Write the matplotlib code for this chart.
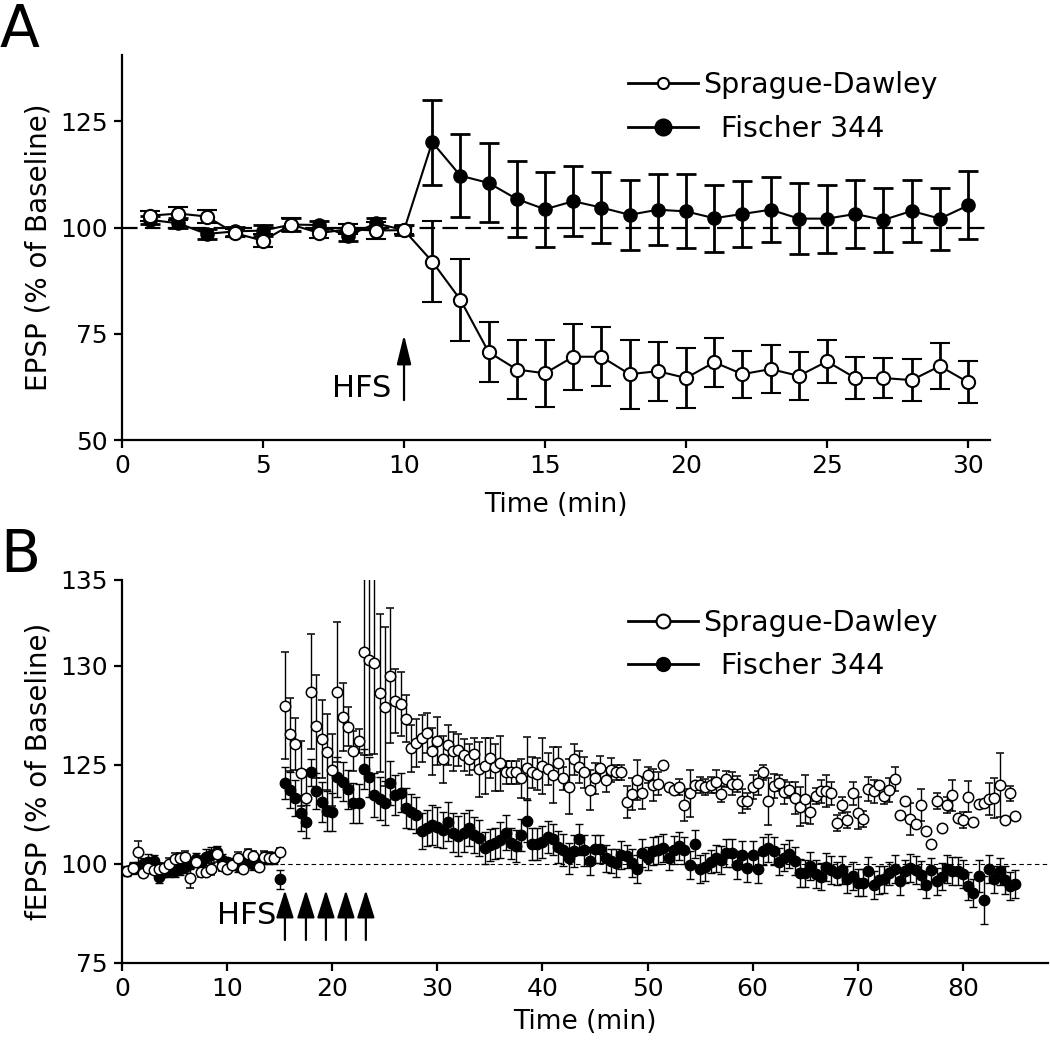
import numpy as np
import matplotlib.pyplot as plt
from matplotlib.lines import Line2D

# ---------------- Panel A data (1 point per minute) ----------------
time_a = [1, 2, 3, 4, 5, 6, 7, 8, 9, 10,
          11, 12, 13, 14, 15, 16, 17, 18, 19, 20,
          21, 22, 23, 24, 25, 26, 27, 28, 29, 30]
sd_a = [102.8, 103.3, 102.6, 98.7, 96.9, 100.7, 98.7, 99.6, 99.3, 99.4,
        92.0, 83.0, 70.7, 66.6, 65.7, 69.6, 69.6, 65.5, 66.2, 64.6,
        68.3, 65.5, 66.7, 65.1, 68.5, 64.6, 64.6, 64.1, 67.4, 63.6]
sd_a_err = [1.2, 1.5, 1.5, 1.0, 1.5, 1.5, 1.2, 1.2, 2.0, 1.0,
            9.5, 9.6, 7.0, 7.0, 7.9, 7.8, 7.0, 8.1, 6.9, 7.0,
            5.8, 5.5, 5.6, 5.6, 5.0, 5.0, 4.6, 5.0, 5.5, 4.9]
f344_a = [101.8, 101.0, 98.5, 99.1, 99.3, 100.7, 100.6, 98.0, 101.0, 99.4,
          120.1, 112.2, 110.5, 106.7, 104.3, 106.2, 104.7, 103.0, 104.2, 103.8,
          102.2, 103.2, 104.2, 102.1, 102.1, 103.2, 101.8, 103.9, 102.1, 105.2]
f344_a_err = [1.0, 1.2, 1.2, 1.0, 1.2, 1.5, 1.0, 1.2, 1.2, 1.2,
              10.0, 9.7, 9.3, 9.0, 8.8, 8.2, 8.3, 8.2, 8.4, 8.7,
              7.9, 7.8, 7.6, 8.3, 8.0, 8.0, 7.6, 7.3, 7.3, 8.0]

# ---------------- Panel B data (every 0.5 min, 0.5 .. 85) ----------------
time_b = np.arange(1, 171) * 0.5

sd_b = [
    # baseline 0.5 - 15
    98.2, 99.1, 102.9, 97.8, 98.9, 98.5, 98.7, 99.1, 100.0, 101.3,
    101.6, 101.8, 96.4, 100.4, 97.9, 97.9, 98.7, 102.4, 99.6, 98.7,
    99.8, 101.6, 98.7, 102.4, 102.1, 99.2, 101.8, 101.6, 101.5, 103.1,
    # after HFS 15.5 - 85
    140.0, 132.7, 130.2, 122.9, 116.7, 143.5, 134.8, 131.6, 128.2, 123.7,
    143.5, 137.1, 134.7, 128.5, 131.1, 153.4, 151.4, 150.8, 143.2, 139.7,
    147.5, 141.1, 140.4, 136.7, 129.2, 130.5, 131.7, 133.0, 128.4, 131.1,
    126.4, 130.1, 128.4, 128.8, 127.5, 126.4, 127.8, 123.9, 124.7, 126.7,
    124.4, 125.4, 123.1, 123.1, 123.1, 121.6, 124.2, 123.1, 122.7, 124.7,
    123.9, 122.5, 125.4, 121.6, 119.5, 126.4, 124.4, 123.1, 118.7, 121.6,
    124.2, 121.2, 123.7, 123.1, 123.1, 115.7, 117.7, 121.2, 118.0, 122.5,
    119.9, 120.3, 125.0, 119.4, 118.7, 119.5, 114.9, 117.8, 119.9, 119.9,
    119.5, 119.9, 120.8, 117.7, 121.4, 120.3, 120.2, 115.8, 115.9, 119.4,
    120.5, 123.1, 115.8, 119.7, 120.5, 118.2, 118.7, 116.6, 114.5, 116.4,
    113.0, 117.2, 118.3, 118.5, 117.8, 110.4, 114.9, 111.1, 117.8, 112.8,
    111.4, 118.9, 118.3, 119.9, 117.2, 118.7, 121.4, 112.3, 115.9, 111.3,
    110.0, 114.9, 108.4, 105.1, 115.9, 109.0, 114.9, 117.3, 111.5, 111.0,
    117.0, 110.6, 115.2, 115.3, 116.4, 116.6, 119.9, 111.1, 117.8, 112.2,
]
sd_b_err = [
    1.0, 1.0, 3.0, 1.0, 1.2, 1.0, 1.5, 1.2, 1.5, 1.5,
    1.2, 1.5, 2.5, 1.0, 1.2, 1.0, 1.5, 2.0, 1.5, 1.0,
    1.2, 1.5, 1.0, 1.5, 1.2, 1.0, 1.5, 1.5, 1.2, 1.0,
    13.6, 9.3, 6.6, 8.2, 7.0, 14.5, 13.0, 9.8, 9.6, 9.0,
    17.7, 8.5, 4.8, 5.0, 3.0, 26.0, 24.0, 23.0, 20.0, 20.0,
    17.0, 8.0, 8.0, 6.0, 6.0, 6.0, 6.0, 5.0, 6.0, 6.0,
    6.0, 5.0, 5.0, 4.0, 4.0, 4.0, 4.0, 7.0, 7.0, 5.0,
    6.0, 7.0, 3.0, 3.0, 3.0, 5.0, 7.8, 4.0, 4.0, 7.0,
    4.0, 7.0, 4.0, 3.0, 7.0, 4.0, 4.0, 4.0, 5.0, 4.0,
    3.0, 3.0, 3.0, 2.0, 2.0, 4.0, 4.0, 5.0, 4.0, 2.0,
    4.0, 3.0, 0.0, 0.0, 0.0, 2.0, 4.0, 6.0, 0.0, 2.0,
    2.0, 2.0, 3.0, 2.0, 2.0, 3.0, 2.0, 3.0, 2.0, 3.0,
    3.0, 2.0, 6.0, 3.0, 2.0, 3.0, 2.0, 4.0, 5.0, 6.0,
    3.0, 2.0, 3.0, 4.0, 3.0, 2.0, 2.0, 2.0, 3.0, 4.0,
    2.0, 3.0, 3.0, 0.0, 2.0, 3.0, 3.0, 0.0, 0.0, 4.0,
    0.0, 4.0, 0.0, 0.0, 2.0, 0.0, 2.0, 4.0, 0.0, 2.0,
    4.0, 0.0, 0.0, 0.0, 4.0, 5.0, 8.0, 0.0, 2.0, 0.0,
]
f344_b = [
    98.2, 98.9, 99.1, 99.9, 100.6, 100.8, 96.8, 97.9, 98.2, 98.2,
    98.7, 99.2, 99.9, 101.3, 100.4, 101.8, 102.3, 103.1, 101.0, 100.4,
    99.9, 99.5, 101.0, 100.6, 100.1, 100.8, 101.4, 101.6, 101.6, 96.1,
    120.5, 118.7, 116.7, 112.9, 110.7, 123.1, 118.4, 115.7, 113.4, 113.0,
    121.9, 120.8, 118.8, 115.4, 115.3, 123.9, 121.9, 117.4, 116.5, 115.4,
    120.5, 117.4, 118.0, 114.1, 113.2, 112.4, 108.4, 109.0, 109.8, 109.3,
    108.6, 110.7, 107.9, 107.1, 107.9, 109.0, 107.3, 106.5, 104.0, 104.8,
    105.2, 106.0, 107.9, 105.2, 104.5, 107.3, 110.9, 105.0, 105.0, 105.6,
    106.8, 106.2, 104.3, 103.5, 101.4, 103.2, 106.2, 103.4, 100.8, 103.7,
    103.7, 101.4, 100.8, 100.3, 102.3, 101.9, 100.3, 98.7, 102.7, 101.4,
    103.2, 103.5, 104.0, 101.4, 103.5, 104.5, 103.4, 99.7, 105.0, 98.7,
    99.3, 100.6, 101.4, 101.0, 102.7, 102.7, 99.7, 102.3, 98.9, 102.3,
    98.7, 103.2, 104.0, 103.2, 100.6, 101.6, 102.5, 100.8, 97.8, 97.6,
    99.5, 97.5, 96.8, 99.3, 98.5, 97.6, 98.5, 96.1, 97.0, 95.3,
    95.3, 98.3, 94.7, 96.0, 96.1, 97.6, 98.7, 95.6, 98.1, 98.9,
    98.5, 97.2, 94.8, 98.5, 95.6, 96.8, 98.7, 98.3, 98.3, 97.5,
    94.4, 92.6, 97.0, 90.9, 98.7, 96.1, 98.1, 96.0, 94.4, 94.9,
]
f344_b_err = [
    1.2, 1.5, 1.5, 1.5, 2.0, 1.5, 1.5, 1.2, 1.5, 1.5,
    1.5, 1.5, 1.2, 1.5, 1.5, 2.0, 2.0, 1.5, 1.5, 1.2,
    1.5, 1.5, 1.5, 1.5, 1.5, 1.5, 1.5, 1.5, 1.5, 2.5,
    4.1, 4.5, 4.5, 4.5, 4.2, 3.5, 4.5, 5.0, 5.0, 4.8,
    5.0, 5.0, 5.0, 5.0, 5.0, 5.0, 5.0, 5.5, 5.5, 5.5,
    5.5, 5.0, 5.0, 5.0, 4.5, 4.5, 4.5, 4.5, 5.0, 5.0,
    4.5, 5.0, 5.0, 5.0, 5.0, 4.5, 4.5, 4.5, 4.0, 4.0,
    4.0, 4.5, 4.5, 4.0, 4.0, 4.0, 5.3, 4.0, 4.0, 4.0,
    4.0, 4.0, 4.0, 4.0, 4.0, 4.0, 4.0, 4.0, 3.5, 3.5,
    3.5, 3.5, 3.0, 3.5, 3.5, 3.0, 3.5, 3.5, 3.5, 3.0,
    3.5, 3.5, 3.5, 3.0, 3.5, 3.5, 3.5, 3.5, 3.5, 3.5,
    3.5, 3.0, 3.5, 3.5, 3.5, 3.5, 3.5, 3.5, 3.5, 3.5,
    3.5, 3.5, 3.5, 3.5, 3.5, 3.5, 3.5, 3.5, 3.5, 3.5,
    3.5, 3.5, 3.5, 3.5, 3.5, 3.0, 3.5, 3.5, 3.5, 3.5,
    3.5, 3.5, 3.5, 3.5, 3.5, 3.0, 3.5, 3.5, 3.0, 3.5,
    3.5, 3.5, 3.5, 3.0, 3.5, 3.5, 3.5, 3.5, 3.5, 3.5,
    3.5, 3.5, 4.0, 6.0, 3.5, 3.5, 3.5, 3.5, 3.5, 3.5,
]

# HFS trains (arrows) and axis tick labels
hfs_a = [10]
hfs_b = [15.5, 17.5, 19.4, 21.3, 23.2]
a_yticks = [50, 75, 100, 125]
a_xticks = [0, 5, 10, 15, 20, 25, 30]
b_xticks = [0, 10, 20, 30, 40, 50, 60, 70, 80]
b_ytick_pos = [75, 100, 125, 150, 171.7]
b_ytick_labels = ['75', '100', '125', '130', '135']
legend_labels = ['Sprague-Dawley', '  Fischer 344']

plt.rcParams['font.family'] = ['DejaVu Sans']

fig = plt.figure(figsize=(10.5, 10.44), dpi=100)
axA = fig.add_axes([0.1162, 0.5785, 0.8267, 0.3688])
axB = fig.add_axes([0.1162, 0.0776, 0.8819, 0.3669])

for ax in (axA, axB):
    ax.spines[['top', 'right']].set_visible(False)
    ax.spines[['left', 'bottom']].set_linewidth(1.6)
    ax.tick_params(width=1.6, length=6, labelsize=18, direction='out', pad=4)

# ---- Panel A ----
axA.axhline(100, color='k', lw=1.6, dashes=(7, 3.3), zorder=1)
axA.errorbar(time_a, f344_a, yerr=f344_a_err, fmt='-o', color='k', mfc='k', mec='k',
             ms=9.5, lw=1.5, elinewidth=2, capsize=7, capthick=2, zorder=2)
axA.errorbar(time_a, sd_a, yerr=sd_a_err, fmt='-o', color='k', mfc='white', mec='k',
             ms=9.5, mew=1.5, lw=1.5, elinewidth=2, capsize=7, capthick=2, zorder=3)
for x in hfs_a:
    axA.annotate('', xy=(x, 74.8), xytext=(x, 59.4),
                 arrowprops=dict(arrowstyle='-|>,head_length=0.9,head_width=0.22',
                                 mutation_scale=20, color='k', lw=1.6,
                                 shrinkA=0, shrinkB=0))
axA.text(9.55, 62.2, 'HFS', ha='right', va='center', fontsize=22)
axA.set_xlim(0, 30.78)
axA.set_ylim(50, 140.6)
axA.set_xticks(a_xticks)
axA.set_yticks(a_yticks)
axA.set_xlabel('Time (min)', fontsize=19, labelpad=10)
axA.set_ylabel('EPSP (% of Baseline)', fontsize=20, labelpad=6)

handles_a = [Line2D([], [], color='k', lw=2, marker='o', mfc='white', mec='k', ms=8, mew=1.5),
             Line2D([], [], color='k', lw=2, marker='o', mfc='k', mec='k', ms=12)]
fig.legend(handles_a, legend_labels, loc='upper left', bbox_to_anchor=(0.598, 0.932),
           frameon=False, fontsize=20.5, handlelength=2.45, handletextpad=0.2,
           labelspacing=0.55, borderpad=0, borderaxespad=0)

# ---- Panel B ----
axB.hlines(100, 15, 88.1, colors='k', lw=0.8, linestyles=(0, (4, 3)), zorder=1)
axB.errorbar(time_b, f344_b, yerr=f344_b_err, fmt='o', color='k', mfc='k', mec='k',
             ms=7.5, mew=1, elinewidth=1, capsize=3, capthick=1, zorder=2)
axB.errorbar(time_b, sd_b, yerr=sd_b_err, fmt='o', color='k', mfc='white', mec='k',
             ms=7.5, mew=1.1, elinewidth=1, capsize=3, capthick=1, zorder=3)
for x in hfs_b:
    axB.annotate('', xy=(x, 93.4), xytext=(x, 80.8),
                 arrowprops=dict(arrowstyle='-|>,head_length=0.85,head_width=0.27',
                                 mutation_scale=20, color='k', lw=1.6,
                                 shrinkA=0, shrinkB=0))
axB.text(14.7, 87.1, 'HFS', ha='right', va='center', fontsize=22)
axB.set_xlim(0, 88.1)
axB.set_ylim(75, 171.7)
axB.set_xticks(b_xticks)
axB.set_yticks(b_ytick_pos)
axB.set_yticklabels(b_ytick_labels)
axB.set_xlabel('Time (min)', fontsize=19, labelpad=6)
axB.set_ylabel('fEPSP (% of Baseline)', fontsize=20, labelpad=6)

handles_b = [Line2D([], [], color='k', lw=2, marker='o', mfc='white', mec='k', ms=10, mew=1.5),
             Line2D([], [], color='k', lw=2, marker='o', mfc='k', mec='k', ms=10)]
fig.legend(handles_b, legend_labels, loc='upper left', bbox_to_anchor=(0.598, 0.417),
           frameon=False, fontsize=20.5, handlelength=2.45, handletextpad=0.2,
           labelspacing=0.55, borderpad=0, borderaxespad=0)

fig.text(0.0, 0.998, 'A', fontsize=42, ha='left', va='top')
fig.text(0.0, 0.495, 'B', fontsize=42, ha='left', va='top')

fig.savefig('out.png', dpi=100)
